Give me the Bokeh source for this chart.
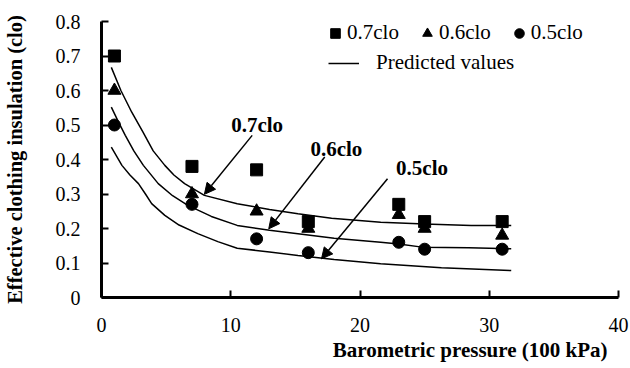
from bokeh.plotting import figure
from bokeh.models import (Range1d, FixedTicker, Legend, LegendItem, Arrow,
                          NormalHead, Label, Title)
from bokeh.embed import file_html
from bokeh.resources import INLINE

# ---- measured data ----
pressure = [1, 7, 12, 16, 23, 25, 31]
clo_07 = [0.70, 0.38, 0.37, 0.22, 0.27, 0.22, 0.22]
clo_06 = [0.60, 0.30, 0.25, 0.20, 0.24, 0.20, 0.18]
clo_05 = [0.50, 0.27, 0.17, 0.13, 0.16, 0.14, 0.14]

# ---- predicted curves ----
pred07_x = [0.76, 1.5, 2.34, 3.2, 4.0, 4.9, 5.6, 6.43, 7.96, 10.5, 13.0, 15.2, 17.8, 21.6, 25.0, 28.6, 31.7]
pred07_y = [0.667, 0.60, 0.537, 0.48, 0.425, 0.383, 0.355, 0.33, 0.296, 0.272, 0.255, 0.243, 0.230, 0.218, 0.213, 0.209, 0.209]
pred06_x = [0.76, 1.3, 1.84, 2.5, 3.24, 4.39, 5.5, 6.68, 8.5, 10.5, 13.0, 15.2, 18.0, 21.6, 23.0, 24.8, 28.4, 31.7]
pred06_y = [0.552, 0.51, 0.47, 0.425, 0.383, 0.33, 0.295, 0.267, 0.235, 0.209, 0.195, 0.185, 0.172, 0.160, 0.155, 0.146, 0.144, 0.141]
pred05_x = [0.76, 1.58, 2.2, 2.86, 3.4, 3.88, 4.9, 6.0, 7.45, 9.0, 10.5, 13.0, 15.2, 18.0, 21.6, 26.3, 31.7]
pred05_y = [0.436, 0.383, 0.355, 0.33, 0.30, 0.272, 0.238, 0.21, 0.185, 0.162, 0.143, 0.132, 0.122, 0.11, 0.098, 0.086, 0.078]

series_labels = ["0.7clo", "0.6clo", "0.5clo"]
line_label = "Predicted values"

x_ticks = [0, 10, 20, 30, 40]
y_ticks = [0, 0.1, 0.2, 0.3, 0.4, 0.5, 0.6, 0.7, 0.8]
y_tick_labels = ["0", "0.1", "0.2", "0.3", "0.4", "0.5", "0.6", "0.7", "0.8"]

x_title = "Barometric pressure (100 kPa)"
y_title = "Effective clothing insulation (clo)"

# annotation placement (data units)
ann_text = [(12.04, 0.499), (18.17, 0.429), (24.8, 0.374)]
ann_arrows = [(11.66, 0.470, 7.96, 0.299),
              (17.27, 0.407, 12.94, 0.199),
              (22.13, 0.344, 17.02, 0.112)]

FONT = "Liberation Serif"

p = figure(width=630, height=368, x_range=Range1d(0, 40), y_range=Range1d(0, 0.8),
           output_backend="svg", toolbar_location=None,
           min_border_left=98, min_border_right=12, min_border_top=21, min_border_bottom=71)
p.grid.visible = False
p.outline_line_color = None
p.background_fill_color = "white"
p.border_fill_color = "white"

for ax in (p.xaxis[0], p.yaxis[0]):
    ax.axis_line_width = 3
    ax.axis_line_color = "black"
    ax.major_tick_in = 7
    ax.major_tick_out = 0
    ax.major_tick_line_width = 2
    ax.major_tick_line_color = "black"
    ax.minor_tick_line_color = None
    ax.major_label_text_font = FONT
    ax.major_label_text_font_size = "20px"
    ax.major_label_text_color = "black"

p.xaxis.ticker = FixedTicker(ticks=x_ticks)
p.yaxis.ticker = FixedTicker(ticks=y_ticks)
p.yaxis.major_label_overrides = dict(zip(y_ticks, y_tick_labels))
p.xaxis.major_label_standoff = 20
p.yaxis.major_label_standoff = 21

p.yaxis.axis_label = y_title
p.yaxis.axis_label_text_font = FONT
p.yaxis.axis_label_text_font_style = "bold"
p.yaxis.axis_label_text_font_size = "20.5px"
p.yaxis.axis_label_text_color = "black"
p.yaxis.axis_label_standoff = 27

xt = Title(text=x_title, align="right", offset=11, standoff=2,
           text_font=FONT, text_font_style="bold", text_font_size="21px",
           text_color="black")
p.add_layout(xt, "below")

# predicted curves
l07 = p.line(pred07_x, pred07_y, line_color="black", line_width=1.5)
l06 = p.line(pred06_x, pred06_y, line_color="black", line_width=1.5)
l05 = p.line(pred05_x, pred05_y, line_color="black", line_width=1.5)

# measured markers
r07 = p.scatter(pressure, clo_07, marker="square", size=12, fill_color="black", line_color="black")
r06 = p.scatter(pressure, clo_06, marker="triangle", size=13, fill_color="black", line_color="black")
r05 = p.scatter(pressure, clo_05, marker="circle", size=12, fill_color="black", line_color="black")

common = dict(padding=0, margin=0, border_line_color=None, background_fill_alpha=0,
              label_text_font=FONT, label_text_font_size="21px", label_text_color="black")
leg1 = Legend(items=[LegendItem(label=series_labels[0], renderers=[r07]),
                     LegendItem(label=series_labels[1], renderers=[r06]),
                     LegendItem(label=series_labels[2], renderers=[r05])],
              orientation="horizontal", location=(222, 252),
              glyph_width=24, glyph_height=24, label_standoff=0, spacing=16, **common)
leg2 = Legend(items=[LegendItem(label=line_label, renderers=[l07])],
              location=(227, 222), glyph_width=31, glyph_height=24,
              label_standoff=17, **common)
p.add_layout(leg1)
p.add_layout(leg2)

for (xs, ys, xe, ye) in ann_arrows:
    p.add_layout(Arrow(end=NormalHead(size=11, fill_color="black", line_color="black", line_width=1),
                       x_start=xs, y_start=ys, x_end=xe, y_end=ye,
                       line_width=1.5, line_color="black"))

for (tx, ty), lab in zip(ann_text, series_labels):
    p.add_layout(Label(x=tx, y=ty, text=lab, text_align="center", text_baseline="middle",
                       text_font=FONT, text_font_style="bold", text_font_size="21px",
                       text_color="black"))

open("out.html", "w").write(file_html(p, INLINE))
